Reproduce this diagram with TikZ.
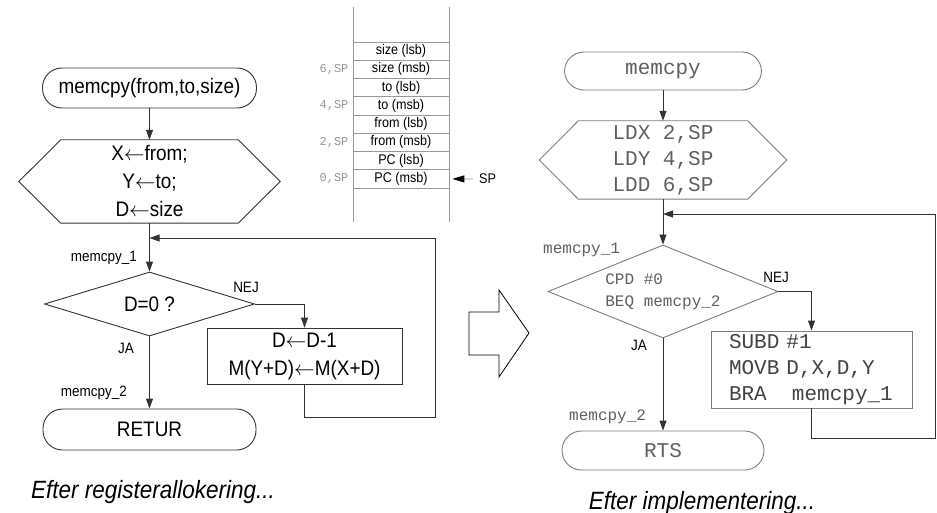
\documentclass[tikz,border=0pt]{standalone}
\usepackage{fontspec}
\setmainfont{Liberation Sans}[FakeStretch=0.9]
\setmonofont{Liberation Mono}[WordSpace={1,0,0}]
\usetikzlibrary{shapes.geometric,arrows.meta,positioning}
\definecolor{codegray}{RGB}{95,95,95}
\definecolor{lightcode}{RGB}{150,150,150}
\definecolor{boxgray}{RGB}{125,125,125}

\begin{document}
\begin{tikzpicture}[x=1pt, y=-1pt,
    every node/.style={inner sep=0pt},
    line/.style={draw=black!80, line width=0.9pt},
    gline/.style={draw=boxgray, line width=0.9pt},
    flow/.style={line, -{Triangle[length=10pt,width=7pt]}},
    term/.style={line, rounded corners=19.5pt, minimum height=40pt},
    proc/.style={line, rectangle},
    cond/.style={line, diamond},
    txt/.style={font=\fontsize{21}{28}\selectfont, align=center},
    lbl/.style={font=\fontsize{15}{18}\selectfont},
    code/.style={font=\ttfamily\fontsize{21}{26}\selectfont, text=codegray, align=left},
    smallcode/.style={font=\ttfamily\fontsize{16}{22}\selectfont, text=codegray, align=left},
    cell/.style={draw=black!40, line width=0.7pt, minimum width=96pt, minimum height=18.25pt, font=\fontsize{14}{16}\selectfont},
    spcode/.style={font=\ttfamily\fontsize{12}{14}\selectfont, text=lightcode},
    caption/.style={font=\itshape\fontsize{25}{30}\selectfont},
  ]
  \useasboundingbox (0,0) rectangle (937,513);

  % left flowchart: after register allocation
  \node[term, txt, minimum width=214pt] (start1) at (149.5,88) {memcpy(from,to,size)};
  \node[txt, minimum width=177pt, minimum height=83pt] (init1) at (149.5,181.5) {X$\leftarrow$from;\\Y$\leftarrow$to;\\D$\leftarrow$size};
  \draw[line] (init1.north west) -- (init1.north east) -- ([xshift=42pt]init1.east) -- (init1.south east)
    -- (init1.south west) -- ([xshift=-42pt]init1.west) -- cycle;
  \node[cond, txt, aspect=3, minimum width=210pt, minimum height=64pt] (test1) at (149.5,304) {D=0 ?};
  \node[proc, txt, minimum width=195pt, minimum height=56pt] (body1) at (304.5,356) {D$\leftarrow$D-1\\M(Y+D)$\leftarrow$M(X+D)};
  \node[term, txt, minimum width=213pt, minimum height=41pt] (ret1) at (149.5,429.5) {RETUR};

  \node[lbl, anchor=east] (lab1a) at (137,258) {memcpy\_1};
  \node[lbl, anchor=east] (lab1b) at (127,393) {memcpy\_2};
  \node[lbl] (no1) at (246,287) {NEJ};
  \node[lbl] (yes1) at (126,348) {JA};

  \coordinate (join1) at (149.5,238);
  \coordinate (loop1) at (435,417);
  \draw[flow] (start1.south) -- (init1.north);
  \draw[line] (init1.south) -- (join1);
  \draw[flow] (join1) -- (test1.north);
  \draw[flow] (test1.east) -| (body1.north);
  \draw[flow] (test1.south) -- (ret1.north);
  \draw[flow] (body1.south) |- (loop1) |- (join1);

  \node[caption] (cap1) at (153,492) {Efter registerallokering...};

  % stack frame
  \draw[draw=black!40, line width=0.7pt] (353,7) -- (353,222) (449,7) -- (449,222);
  \foreach \lbl [count=\i] in {size (lsb), size (msb), to (lsb), to (msb), from (lsb), from (msb), PC (lsb), PC (msb)}
    \node[cell] (cell\i) at (401, {42+18.25*\i-9.125}) {\lbl};
  \foreach \off/\c in {6/2, 4/4, 2/6, 0/8}
    \node[spcode, anchor=east] (off\c) at ([xshift=-4pt]cell\c.west) {\off,SP};
  \node[font=\fontsize{14}{16}\selectfont, anchor=west] (sp) at (479,179) {SP};
  \draw[draw=black!40, line width=0.8pt, -{Triangle[length=12pt,width=7pt,color=black]}] ([xshift=-6pt]sp.west) -- ([xshift=3pt]cell8.east);

  % big arrow
  \draw[line width=0.8pt] (469,312) -- (499,312) -- (499,290) -- (529,333) -- (499,377) -- (499,355) -- (469,355) -- cycle;

  % right flowchart: after implementation
  \node[term, draw=boxgray, code, minimum width=197pt, minimum height=38pt] (start2) at (663,71) {memcpy};
  \node[code, minimum width=169pt, minimum height=78pt] (init2) at (663,160) {LDX 2,SP\\LDY 4,SP\\LDD 6,SP};
  \draw[gline] (init2.north west) -- (init2.north east) -- ([xshift=39pt]init2.east) -- (init2.south east)
    -- (init2.south west) -- ([xshift=-39pt]init2.west) -- cycle;
  \node[cond, draw=boxgray, smallcode, aspect=2.5, minimum width=230pt, minimum height=93pt] (test2) at (663,291.5) {CPD \#0\\BEQ memcpy\_2};
  \node[proc, draw=boxgray, code, text=codegray!70!black, text width=165pt, minimum width=201pt, minimum height=77pt] (body2) at (811.5,369.5)
    {SUBD \#1\\MOVB D,X,D,Y\\BRA\hspace{25.2pt}memcpy\_1};
  \node[term, draw=boxgray, code, minimum width=202pt, minimum height=39pt] (ret2) at (663,450.5) {RTS};

  \node[smallcode, anchor=west] (lab2a) at (543,250) {memcpy\_1};
  \node[smallcode, anchor=west] (lab2b) at (569,417) {memcpy\_2};
  \node[lbl] (no2) at (776,277) {NEJ};
  \node[lbl] (yes2) at (639,345) {JA};

  \coordinate (join2) at (663,214);
  \coordinate (loop2) at (935,438);
  \draw[flow] (start2.south) -- (init2.north);
  \draw[line] (init2.south) -- (join2);
  \draw[flow] (join2) -- (test2.north);
  \draw[flow] (test2.east) -| (body2.north);
  \draw[flow] (test2.south) -- (ret2.north);
  \draw[flow] (body2.south) |- (loop2) |- (join2);

  \node[caption] (cap2) at (702,503) {Efter implementering...};
\end{tikzpicture}
\end{document}
